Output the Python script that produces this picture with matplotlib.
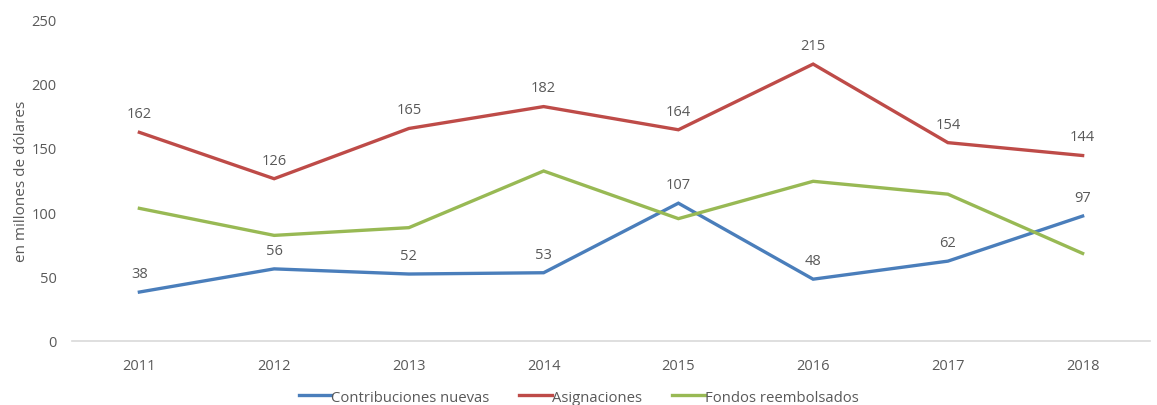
import matplotlib.pyplot as plt

plt.rcParams['font.family'] = ['Open Sans', 'DejaVu Sans']

years = ['2011', '2012', '2013', '2014', '2015', '2016', '2017', '2018']
contribuciones = [38, 56, 52, 53, 107, 48, 62, 97]
asignaciones = [162, 126, 165, 182, 164, 215, 154, 144]
fondos = [103, 82, 88, 132, 95, 124, 114, 68]

gris = '#595959'
fig = plt.figure(figsize=(11.57, 4.06), dpi=100)
ax = fig.add_axes([72 / 1157, 1 - 342 / 406, 1078 / 1157, 322 / 406])

x = range(len(years))
series = [
    (contribuciones, '#4a7ebb', 'Contribuciones nuevas', True),
    (asignaciones, '#be4b48', 'Asignaciones', True),
    (fondos, '#98b954', 'Fondos reembolsados', False),
]
for vals, color, nombre, etiquetas in series:
    ax.plot(x, vals, color=color, lw=2.4, label=nombre, solid_joinstyle='miter')
    if etiquetas:
        for xi, v in zip(x, vals):
            ax.annotate(str(v), (xi, v), xytext=(0, 8), textcoords='offset points',
                        ha='center', va='bottom', fontsize=10.5, color=gris)

ax.set_xlim(-0.5, len(years) - 0.5)
ax.set_ylim(0, 250)
ax.set_yticks(range(0, 251, 50))
ax.set_xticks(list(x))
ax.set_xticklabels(years)
ax.tick_params(axis='both', length=0, labelsize=10.5, colors=gris)
ax.tick_params(axis='x', pad=12)
ax.tick_params(axis='y', pad=11)
for s in ['top', 'right', 'left']:
    ax.spines[s].set_visible(False)
ax.spines['bottom'].set_color('#d9d9d9')
ax.spines['bottom'].set_linewidth(1.2)
ax.set_ylabel('en millones de dólares', fontsize=11, color=gris, labelpad=2)

fig.legend(loc='lower center', bbox_to_anchor=(0.5, -0.032), ncol=3, frameon=False,
           fontsize=10.7, labelcolor=gris, handlelength=2.2, handletextpad=0.0,
           columnspacing=2.0)

fig.savefig('out.png', dpi=100)
